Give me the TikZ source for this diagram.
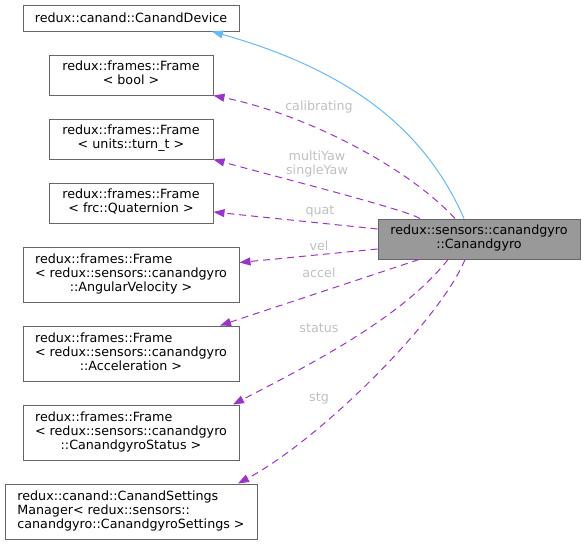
\documentclass[tikz,border=0pt]{standalone}
\usepackage{fontspec}
\setmainfont{DejaVu Sans}
\usepackage{xcolor}
\usepackage{tikz}
\usetikzlibrary{positioning,arrows.meta,calc}
\definecolor{inherit}{HTML}{63B8FF}
\definecolor{member}{HTML}{9A32CD}
\definecolor{boxline}{HTML}{666666}
\definecolor{boxfill}{HTML}{999999}
\definecolor{lbl}{HTML}{C0C0C0}

\begin{document}
\begin{tikzpicture}[
  x=1pt, y=-1pt,
  node distance=23pt,
  every node/.style={font=\fontsize{12.7}{14}\selectfont, inner sep=0pt},
  cls/.style={draw=boxline, line width=1pt, fill=white,
              minimum width=216pt, minimum height=26pt},
  cls2/.style={cls, minimum width=164pt, minimum height=40pt},
  cls3/.style={cls, minimum height=55pt},
  self/.style={cls, fill=boxfill, minimum width=202pt, minimum height=40pt},
  lab/.style={text=lbl, align=center},
  isa/.style={-{Triangle[length=11pt, width=8pt]}, inherit, line width=1pt},
  use/.style={-{Triangle[length=11pt, width=8pt]}, member, line width=1pt,
              dash pattern=on 7pt off 5pt}
]
  \useasboundingbox (0,0) rectangle (585,544);

  % Left column: base class and member types, stacked top to bottom
  \node[cls] (dev) at (131,18) {redux::canand::CanandDevice};
  \node[cls2, below=of dev] (bool) {%
    \begin{tabular}{@{}c@{}}redux::frames::Frame\\ < bool >\end{tabular}};
  \node[cls2, below=of bool] (turn) {%
    \begin{tabular}{@{}c@{}}redux::frames::Frame\\ < units::turn\_t >\end{tabular}};
  \node[cls2, below=of turn] (quat) {%
    \begin{tabular}{@{}c@{}}redux::frames::Frame\\ < frc::Quaternion >\end{tabular}};
  \node[cls3, below=of quat] (vel) {%
    \begin{tabular}{@{}l@{}}redux::frames::Frame\\ < redux::sensors::canandgyro\\
    \multicolumn{1}{@{}c@{}}{::AngularVelocity >}\end{tabular}};
  \node[cls3, below=of vel] (accel) {%
    \begin{tabular}{@{}l@{}}redux::frames::Frame\\ < redux::sensors::canandgyro\\
    \multicolumn{1}{@{}c@{}}{::Acceleration >}\end{tabular}};
  \node[cls3, below=of accel] (status) {%
    \begin{tabular}{@{}l@{}}redux::frames::Frame\\ < redux::sensors::canandgyro\\
    \multicolumn{1}{@{}c@{}}{::CanandgyroStatus >}\end{tabular}};
  \node[cls3, minimum width=252pt, below=of status] (stg) {%
    \begin{tabular}{@{}l@{}}redux::canand::CanandSettings\\ Manager< redux::sensors::\\
    canandgyro::CanandgyroSettings >\end{tabular}};

  % The class itself
  \node[self] (gyro) at (479,239) {%
    \begin{tabular}{@{}c@{}}redux::sensors::canandgyro\\ ::Canandgyro\end{tabular}};

  % Edge labels
  \node[lab] (lcal) at (319,107) {calibrating};
  \node[lab] (lyaw) at (317,164) {multiYaw\\ singleYaw};
  \node[lab] (lquat) at (320,211) {quat};
  \node[lab] (lvel) at (319,246) {vel};
  \node[lab] (lacc) at (319,273) {accel};
  \node[lab] (lsta) at (319,328) {status};
  \node[lab] (lstg) at (319,398) {stg};

  % Inheritance
  \draw[isa] ([xshift=-15pt]gyro.north) .. controls +(-39,-89) and +(138,39) .. ([xshift=81pt]dev.south);

  % Members
  \draw[use] ([xshift=-24pt]gyro.north) .. controls +(-45,-49) and +(97,20) .. (bool.south east);
  \draw[use] ([xshift=-59pt]gyro.north) .. controls +(-15,-9) and +(77,21) .. (turn.south east);
  \draw[use] ([yshift=10pt]gyro.west) -- ([yshift=-9pt]quat.east);
  \draw[use] ([yshift=-10pt]gyro.west) -- ([yshift=12pt]vel.east);
  \draw[use] ([xshift=-60pt]gyro.south) -- ([xshift=89pt]accel.north);
  \draw[use] ([xshift=-31pt]gyro.south) .. controls +(-48,61) and +(67,-35) .. ([xshift=102pt]status.north);
  \draw[use] ([xshift=-14pt]gyro.south) .. controls +(-25,61) and +(82,-44) .. ([xshift=107pt]stg.north);
\end{tikzpicture}
\end{document}
